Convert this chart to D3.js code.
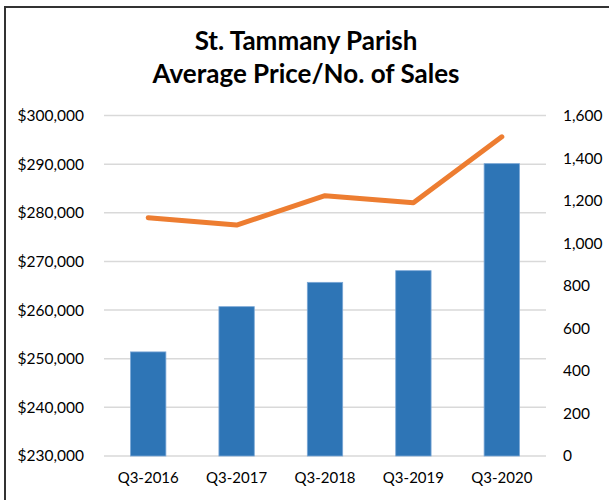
<!DOCTYPE html>
<html>
<head>
<meta charset="utf-8">
<script src="https://cdn.jsdelivr.net/npm/d3@7"></script>
<style>
  body { margin: 0; background: #fff; }
  svg { display: block; font-family: Lato, "Open Sans", sans-serif; }
</style>
</head>
<body>
<svg width="609" height="500"></svg>
<script>
const quarters = ["Q3-2016", "Q3-2017", "Q3-2018", "Q3-2019", "Q3-2020"];
const avgPrice = [251400, 260700, 265700, 268100, 290100];
const salesCount = [1120, 1085, 1223, 1190, 1500];
const priceTicks = [230000, 240000, 250000, 260000, 270000, 280000, 290000, 300000];
const salesTicks = [0, 200, 400, 600, 800, 1000, 1200, 1400, 1600];
const titleLines = ["St. Tammany Parish", "Average Price/No. of Sales"];

const svg = d3.select("svg");
const margin = { left: 104, right: 63, top: 115.5, bottom: 44 };
const width = 609, height = 500;

// frame
svg.append("rect")
    .attr("x", 5).attr("y", 7)
    .attr("width", width + 10).attr("height", height + 10)
    .attr("fill", "none")
    .attr("stroke", "#333")
    .attr("stroke-width", 2);

const x = d3.scaleBand()
    .domain(quarters)
    .range([margin.left, width - margin.right])
    .paddingInner(0.6)
    .paddingOuter(0.3);

const yLeft = d3.scaleLinear()
    .domain([230000, 300000])
    .range([height - margin.bottom, margin.top]);

const yRight = d3.scaleLinear()
    .domain([0, 1600])
    .range([height - margin.bottom, margin.top]);

// gridlines
svg.append("g")
    .selectAll("line")
    .data(priceTicks)
    .join("line")
    .attr("x1", margin.left)
    .attr("x2", width - margin.right)
    .attr("y1", d => yLeft(d))
    .attr("y2", d => yLeft(d))
    .attr("stroke", "#d9d9d9")
    .attr("stroke-width", 1.5);

// left axis
const leftAxis = svg.append("g")
    .attr("transform", `translate(${margin.left - 17},0)`)
    .call(d3.axisLeft(yLeft).tickValues(priceTicks).tickSize(0).tickFormat(d => "$" + d3.format(",")(d)));
leftAxis.select(".domain").remove();
leftAxis.selectAll("text").attr("font-size", 15.5).attr("fill", "#000").attr("font-family", "Lato");

// right axis
const rightAxis = svg.append("g")
    .attr("transform", `translate(${width - margin.right + 17},0)`)
    .call(d3.axisRight(yRight).tickValues(salesTicks).tickSize(0).tickFormat(d3.format(",")));
rightAxis.select(".domain").remove();
rightAxis.selectAll("text").attr("font-size", 15.5).attr("fill", "#000").attr("font-family", "Lato").attr("x", 0);

// bottom labels
const bottomAxis = svg.append("g")
    .attr("transform", `translate(0,${height - margin.bottom + 13})`)
    .call(d3.axisBottom(x).tickSize(0));
bottomAxis.select(".domain").remove();
bottomAxis.selectAll("text").attr("font-size", 15).attr("fill", "#000").attr("font-family", "Lato");

// bars
svg.append("g")
    .selectAll("rect")
    .data(quarters)
    .join("rect")
    .attr("x", d => x(d))
    .attr("width", x.bandwidth())
    .attr("y", (d, i) => yLeft(avgPrice[i]))
    .attr("height", (d, i) => yLeft(230000) - yLeft(avgPrice[i]))
    .attr("fill", "#2e75b6")
    .attr("stroke", "#7aa7d6")
    .attr("stroke-width", 0.8);

// line
const line = d3.line()
    .x((d, i) => x(quarters[i]) + x.bandwidth() / 2)
    .y(d => yRight(d));

svg.append("path")
    .datum(salesCount)
    .attr("d", line)
    .attr("fill", "none")
    .attr("stroke", "#ed7d31")
    .attr("stroke-width", 5)
    .attr("stroke-linecap", "round")
    .attr("stroke-linejoin", "round");

// title
svg.append("text")
    .attr("x", 306)
    .attr("text-anchor", "middle")
    .attr("font-weight", "bold")
    .attr("font-size", 26)
    .attr("fill", "#000")
    .selectAll("tspan")
    .data(titleLines)
    .join("tspan")
    .attr("x", 306)
    .attr("y", (d, i) => 50 + i * 32.5)
    .text(d => d);
</script>
</body>
</html>
